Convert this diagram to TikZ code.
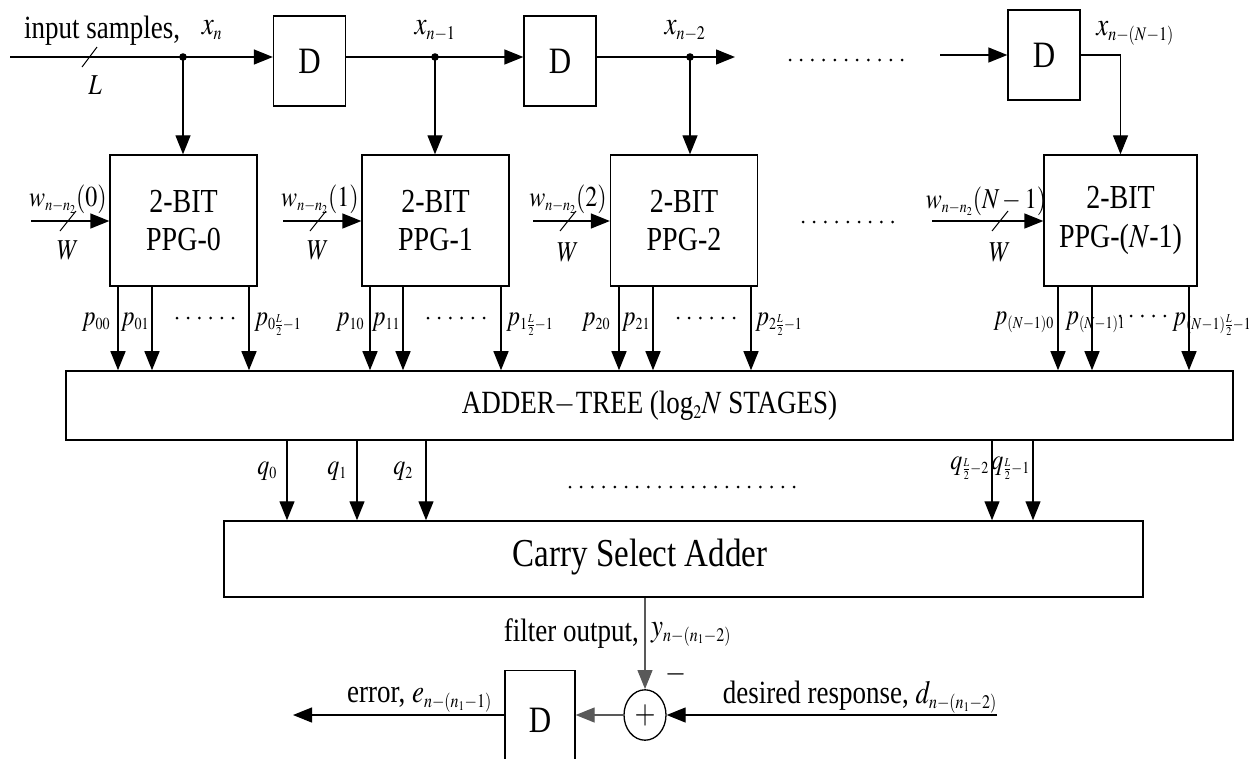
\documentclass[tikz,border=0pt]{standalone}
\usepackage{mathptmx}
\usepackage{fontspec}
\setmainfont{Liberation Serif}
\usetikzlibrary{arrows.meta,calc,positioning}
\DeclareMathSizes{24}{24}{14}{10}
\DeclareMathSizes{27}{27}{16}{11}

\tikzset{
  wire/.style={line width=1.3pt},
  sig/.style={wire,-{Triangle[length=19pt,width=15pt]}},
  box/.style={draw,line width=1.3pt,inner sep=0pt},
  delay/.style={box,minimum width=72pt,minimum height=75pt,font=\fontsize{31}{34}\selectfont},
  ppg/.style={box,minimum width=147pt,minimum height=109pt,align=center,font=\fontsize{28}{32}\selectfont},
  lbl/.style={font=\fontsize{27}{30}\selectfont,inner sep=0pt},
  sm/.style={font=\fontsize{24}{27}\selectfont,inner sep=0pt},
  dotrow/.style={line width=3pt,line cap=round,dash pattern=on 0pt off 11.2pt},
  tick/.style={line width=1pt},
}

\begin{document}
\begin{tikzpicture}[x=1pt,y=-1pt,every node/.append style={yscale=1.2}]
  \useasboundingbox (0,0) rectangle (1249,758);
  \clip (0,0) rectangle (1249,758);

  % delay line
  \node[delay] (D1) at (309.5,61) {D};
  \node[delay] (D2) at (560,61) {D};
  \node[delay] (D3) at (1044,55) {D};
  \coordinate (in) at (10,57);
  \coordinate (tap0) at (183,57);
  \coordinate (tap1) at (435,57);
  \coordinate (tap2) at (690,57);
  \coordinate (tap2end) at (735,57);
  \coordinate (in3) at (940,55);
  \draw[sig] (in) -- (in -| D1.west);
  \draw[sig] (D1.east |- tap1) -- (tap1 -| D2.west);
  \draw[sig] (D2.east |- tap2) -- (tap2end);
  \draw[sig] (in3) -- (D3.west);
  \foreach \t in {tap0,tap1,tap2} \fill (\t) circle (3.8pt);
  \draw[tick] (82,67) -- (97,47);
  \draw[dotrow] (790,60) -- (913,60);

  \node[lbl] (insamp) at (102,31) {input samples,};
  \node[sm] (Llbl) at (95,85) {$L$};
  \node[lbl] (xn) at (212,30) {$x_n$};
  \node[lbl] (xn1) at (435,31) {$x_{n-1}$};
  \node[lbl] (xn2) at (685,31) {$x_{n-2}$};
  \node[lbl] (xnN) at (1135,33) {$x_{n-(N-1)}$};

  % partial product generators
  \node[ppg] (P0) at (183.5,220.5) {2-BIT\\PPG-0};
  \node[ppg] (P1) at (435.5,220.5) {2-BIT\\PPG-1};
  \node[ppg] (P2) at (684,220.5) {2-BIT\\PPG-2};
  \node[ppg,minimum width=153pt] (P3) at (1120.5,220.5) {2-BIT\\PPG-($N$-1)};
  \foreach \t/\p in {tap0/P0,tap1/P1,tap2/P2} \draw[sig] (\t) -- (\t |- \p.north);
  \draw[sig] (D3.east) -| (P3.north);

  % weights
  \coordinate (w0) at (31,221);
  \coordinate (w1) at (283,221);
  \coordinate (w2) at (533,221);
  \coordinate (w3) at (932,221);
  \foreach \w/\p in {w0/P0,w1/P1,w2/P2,w3/P3} \draw[sig] (\w) -- (\w -| \p.west);
  \foreach \x in {68,318,568,1000} \draw[tick] (\x,221) ++(-8,10) -- ++(16,-20);
  \node[sm] (lw0) at (68,199) {$w_{n-n_2}(0)$};
  \node[sm] (lw1) at (320,199) {$w_{n-n_2}(1)$};
  \node[sm] (lw2) at (568,199) {$w_{n-n_2}(2)$};
  \node[sm] (lw3) at (986,201) {$w_{n-n_2}(N-1)$};
  \node[sm] (lW0) at (68,250) {$W$};
  \node[sm] (lW1) at (318,250) {$W$};
  \node[sm] (lW2) at (568,252) {$W$};
  \node[sm] (lW3) at (1000,252) {$W$};
  \draw[dotrow] (803,222) -- (893,222);

  % adder tree
  \node[box,lbl,minimum width=1167pt,minimum height=57.5pt] (AT) at (649.5,405.5) {ADDER$-$TREE (log$_2N$ STAGES)};
  \foreach \p/\x in {P0/118,P0/152,P0/249,P1/370,P1/403,P1/501,P2/619,P2/653,P2/751,P3/1058,P3/1092,P3/1189}{
    \coordinate (c) at (\x,0);
    \draw[sig] (\p.south -| c) -- (AT.north -| c);
  }
  \node[sm] (p00) at (96,322) {$p_{00}$};
  \node[sm] (p01) at (135,322) {$p_{01}$};
  \node[sm,anchor=west] (p0L) at (254,324) {$p_{0\frac{L}{2}-1}$};
  \node[sm] (p10) at (350,322) {$p_{10}$};
  \node[sm] (p11) at (386,322) {$p_{11}$};
  \node[sm,anchor=west] (p1L) at (506,324) {$p_{1\frac{L}{2}-1}$};
  \node[sm] (p20) at (596,322) {$p_{20}$};
  \node[sm] (p21) at (636,322) {$p_{21}$};
  \node[sm,anchor=west] (p2L) at (755,324) {$p_{2\frac{L}{2}-1}$};
  \node[sm,anchor=east] (p30) at (1054,322) {$p_{(N-1)0}$};
  \node[sm,anchor=west] (p31) at (1065,322) {$p_{(N-1)1}$};
  \node[sm,anchor=west] (p3L) at (1172,324) {$p_{(N-1)\frac{L}{2}-1}$};
  \draw[dotrow] (177,318) -- (235,318);
  \draw[dotrow] (428,318) -- (487,318);
  \draw[dotrow] (678,318) -- (737,318);
  \draw[dotrow] (1120,316) -- (1165,316);

  % carry select adder
  \node[box,minimum width=919pt,minimum height=63.3pt] (CSA) at (683.5,559) {};
  \node[font=\fontsize{33}{36}\selectfont] (CSAtxt) at (640,557) {Carry Select Adder};
  \foreach \x in {287,357,426,992,1033}{
    \coordinate (c) at (\x,0);
    \draw[sig] (AT.south -| c) -- (CSA.north -| c);
  }
  \node[sm] (q0) at (267,471) {$q_0$};
  \node[sm] (q1) at (337,471) {$q_1$};
  \node[sm] (q2) at (403,471) {$q_2$};
  \node[sm,anchor=east] (qL2) at (989,468) {$q_{\frac{L}{2}-2}$};
  \node[sm,anchor=east] (qL1) at (1030,468) {$q_{\frac{L}{2}-1}$};
  \draw[dotrow] (570,487) -- (794,487);

  % error computation
  \node[draw,circle,wire,inner sep=0pt,minimum size=42pt,font=\fontsize{27}{30}\selectfont] (sum) at (645,715) {$+$};
  \node[delay,minimum width=70pt,minimum height=83pt] (Dout) at (540,720) {D};
  \coordinate (dIn) at (997,715);
  \coordinate (eOut) at (293,715);
  \draw[sig,black!65] (sum |- CSA.south) -- (sum.north);
  \draw[sig] (dIn) -- (sum.east);
  \draw[sig,black!65] (sum.west) -- (sum -| Dout.east);
  \draw[sig] (sum -| Dout.west) -- (eOut);
  \node[lbl,anchor=east] (fo) at (639,634) {filter output,};
  \node[lbl,anchor=west] (yo) at (651,634) {$y_{n-(n_1-2)}$};
  \node[lbl] (minus) at (676,674) {$-$};
  \node[lbl,anchor=east] (dr) at (997,697) {desired response, $d_{n-(n_1-2)}$};
  \node[lbl,anchor=east] (er) at (492,700) {error, $e_{n-(n_1-1)}$};
\end{tikzpicture}
\end{document}
